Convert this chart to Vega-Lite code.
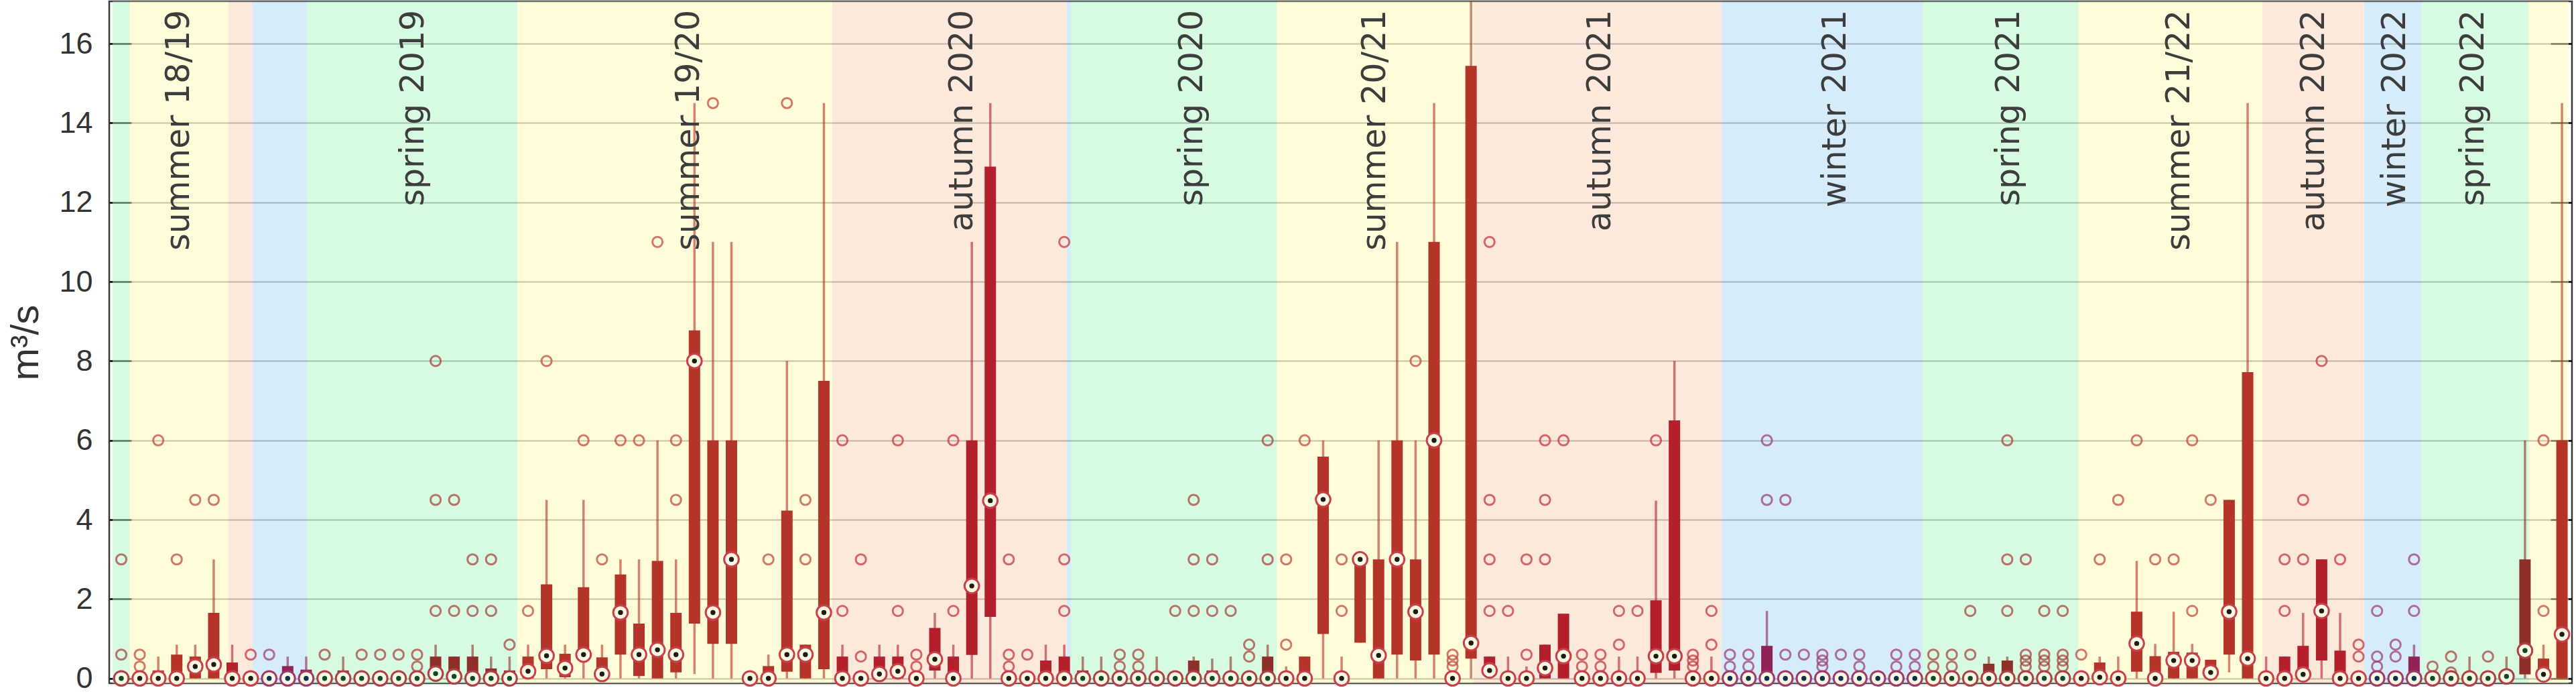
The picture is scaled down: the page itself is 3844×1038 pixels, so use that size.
{
"$schema": "https://vega.github.io/schema/vega-lite/v6.json",
"width": 3675, "height": 1017,
"autosize": {"type": "none"},
"padding": {"left": 163, "top": 2, "right": 6, "bottom": 19},
"background": "white",
"config": {"view": {"stroke": "#3a3a3a", "strokeWidth": 2.5}},
"datasets": {
"seasons": [{"a":-0.47,"b":0.46,"s":"sp"},{"a":0.46,"b":5.8,"s":"su"},{"a":5.8,"b":7.1,"s":"au"},{"a":7.1,"b":10.05,"s":"wi"},{"a":10.05,"b":21.42,"s":"sp"},{"a":21.42,"b":38.45,"s":"su"},{"a":38.45,"b":51.13,"s":"au"},{"a":51.13,"b":51.37,"s":"wi"},{"a":51.37,"b":62.5,"s":"sp"},{"a":62.5,"b":73.15,"s":"su"},{"a":73.15,"b":86.55,"s":"au"},{"a":86.55,"b":97.42,"s":"wi"},{"a":97.42,"b":105.85,"s":"sp"},{"a":105.85,"b":115.8,"s":"su"},{"a":115.8,"b":121.3,"s":"au"},{"a":121.3,"b":124.4,"s":"wi"},{"a":124.4,"b":130.2,"s":"sp"},{"a":130.2,"b":132.36,"s":"su"}],
"labels": [{"x":3.13,"t":"summer 18/19"},{"x":15.8,"t":"spring 2019"},{"x":30.7,"t":"summer 19/20"},{"x":45.5,"t":"autumn 2020"},{"x":57.9,"t":"spring 2020"},{"x":67.8,"t":"summer 20/21"},{"x":80.0,"t":"autumn 2021"},{"x":92.7,"t":"winter 2021"},{"x":102.1,"t":"spring 2021"},{"x":111.3,"t":"summer 21/22"},{"x":118.6,"t":"autumn 2022"},{"x":122.96,"t":"winter 2022"},{"x":127.2,"t":"spring 2022"}],
"boxes": [
{"i":0,"s":"sp","lo":0,"q1":0,"m":0,"q3":0,"hi":0.2},
{"i":1,"s":"su","lo":0,"q1":0,"m":0,"q3":0.15,"hi":0.2},
{"i":2,"s":"su","lo":0,"q1":0,"m":0,"q3":0.2,"hi":0.55},
{"i":3,"s":"su","lo":0,"q1":0,"m":0,"q3":0.6,"hi":0.85},
{"i":4,"s":"su","lo":0,"q1":0,"m":0.3,"q3":0.55,"hi":0.85},
{"i":5,"s":"su","lo":0,"q1":0,"m":0.35,"q3":1.65,"hi":3},
{"i":6,"s":"au","lo":0,"q1":0,"m":0,"q3":0.4,"hi":0.85},
{"i":7,"s":"au","lo":0,"q1":0,"m":0,"q3":0,"hi":0},
{"i":8,"s":"wi","lo":0,"q1":0,"m":0,"q3":0,"hi":0},
{"i":9,"s":"wi","lo":0,"q1":0,"m":0,"q3":0.31,"hi":0.55},
{"i":10,"s":"wi","lo":0,"q1":0,"m":0,"q3":0.22,"hi":0.55},
{"i":11,"s":"sp","lo":0,"q1":0,"m":0,"q3":0,"hi":0},
{"i":12,"s":"sp","lo":0,"q1":0,"m":0,"q3":0.2,"hi":0.55},
{"i":13,"s":"sp","lo":0,"q1":0,"m":0,"q3":0,"hi":0},
{"i":14,"s":"sp","lo":0,"q1":0,"m":0,"q3":0,"hi":0},
{"i":15,"s":"sp","lo":0,"q1":0,"m":0,"q3":0,"hi":0},
{"i":16,"s":"sp","lo":0,"q1":0,"m":0,"q3":0,"hi":0},
{"i":17,"s":"sp","lo":0,"q1":0,"m":0.12,"q3":0.55,"hi":0.85},
{"i":18,"s":"sp","lo":0,"q1":0,"m":0.05,"q3":0.55,"hi":0.55},
{"i":19,"s":"sp","lo":0,"q1":0,"m":0,"q3":0.55,"hi":0.85},
{"i":20,"s":"sp","lo":0,"q1":0,"m":0,"q3":0.25,"hi":0.55},
{"i":21,"s":"sp","lo":0,"q1":0,"m":0,"q3":0.2,"hi":0.55},
{"i":22,"s":"su","lo":0,"q1":0,"m":0.18,"q3":0.55,"hi":0.85},
{"i":23,"s":"su","lo":0,"q1":0.23,"m":0.57,"q3":2.37,"hi":4.5},
{"i":24,"s":"su","lo":0,"q1":0.03,"m":0.26,"q3":0.62,"hi":0.85},
{"i":25,"s":"su","lo":0,"q1":0.5,"m":0.6,"q3":2.3,"hi":4.5},
{"i":26,"s":"su","lo":0,"q1":0,"m":0.11,"q3":0.53,"hi":0.85},
{"i":27,"s":"su","lo":0,"q1":0.6,"m":1.66,"q3":2.62,"hi":3},
{"i":28,"s":"su","lo":0,"q1":0.06,"m":0.6,"q3":1.38,"hi":3},
{"i":29,"s":"su","lo":0,"q1":0,"m":0.72,"q3":2.96,"hi":6},
{"i":30,"s":"su","lo":0,"q1":0.15,"m":0.6,"q3":1.65,"hi":3},
{"i":31,"s":"su","lo":0.11,"q1":1.38,"m":8,"q3":8.77,"hi":14.5},
{"i":32,"s":"su","lo":0,"q1":0.87,"m":1.66,"q3":6,"hi":11},
{"i":33,"s":"su","lo":0,"q1":0.87,"m":3,"q3":6,"hi":11},
{"i":34,"s":"su","lo":0,"q1":0,"m":0,"q3":0,"hi":0},
{"i":35,"s":"su","lo":0,"q1":0,"m":0,"q3":0.31,"hi":0.6},
{"i":36,"s":"su","lo":0,"q1":0.17,"m":0.6,"q3":4.23,"hi":8},
{"i":37,"s":"su","lo":0,"q1":0,"m":0.6,"q3":0.85,"hi":0.85},
{"i":38,"s":"su","lo":0,"q1":0.23,"m":1.66,"q3":7.5,"hi":14.5},
{"i":39,"s":"au","lo":0,"q1":0,"m":0,"q3":0.55,"hi":0.85},
{"i":40,"s":"au","lo":0,"q1":0,"m":0,"q3":0,"hi":0},
{"i":41,"s":"au","lo":0,"q1":0,"m":0.11,"q3":0.55,"hi":0.85},
{"i":42,"s":"au","lo":0,"q1":0,"m":0.18,"q3":0.55,"hi":0.85},
{"i":43,"s":"au","lo":0,"q1":0,"m":0,"q3":0,"hi":0},
{"i":44,"s":"au","lo":0,"q1":0.2,"m":0.48,"q3":1.27,"hi":1.65},
{"i":45,"s":"au","lo":0,"q1":0,"m":0,"q3":0.55,"hi":0.85},
{"i":46,"s":"au","lo":0,"q1":0.59,"m":2.33,"q3":6,"hi":11},
{"i":47,"s":"au","lo":0,"q1":1.55,"m":4.48,"q3":12.9,"hi":14.5},
{"i":48,"s":"au","lo":0,"q1":0,"m":0,"q3":0,"hi":0},
{"i":49,"s":"au","lo":0,"q1":0,"m":0,"q3":0,"hi":0},
{"i":50,"s":"au","lo":0,"q1":0,"m":0,"q3":0.45,"hi":0.85},
{"i":51,"s":"au","lo":0,"q1":0,"m":0,"q3":0.55,"hi":0.85},
{"i":52,"s":"sp","lo":0,"q1":0,"m":0,"q3":0.2,"hi":0.55},
{"i":53,"s":"sp","lo":0,"q1":0,"m":0,"q3":0.1,"hi":0.55},
{"i":54,"s":"sp","lo":0,"q1":0,"m":0,"q3":0,"hi":0},
{"i":55,"s":"sp","lo":0,"q1":0,"m":0,"q3":0,"hi":0},
{"i":56,"s":"sp","lo":0,"q1":0,"m":0,"q3":0.15,"hi":0.55},
{"i":57,"s":"sp","lo":0,"q1":0,"m":0,"q3":0,"hi":0},
{"i":58,"s":"sp","lo":0,"q1":0,"m":0,"q3":0.45,"hi":0.55},
{"i":59,"s":"sp","lo":0,"q1":0,"m":0,"q3":0.2,"hi":0.5},
{"i":60,"s":"sp","lo":0,"q1":0,"m":0,"q3":0.1,"hi":0.55},
{"i":61,"s":"sp","lo":0,"q1":0,"m":0,"q3":0,"hi":0},
{"i":62,"s":"sp","lo":0,"q1":0,"m":0,"q3":0.55,"hi":0.85},
{"i":63,"s":"su","lo":0,"q1":0,"m":0,"q3":0.05,"hi":0.3},
{"i":64,"s":"su","lo":0,"q1":0,"m":0,"q3":0.55,"hi":0.55},
{"i":65,"s":"su","lo":0,"q1":1.12,"m":4.51,"q3":5.59,"hi":6},
{"i":66,"s":"su","lo":0,"q1":0,"m":0,"q3":0,"hi":0.55},
{"i":67,"s":"su","lo":0.9,"q1":0.9,"m":3,"q3":3,"hi":3},
{"i":68,"s":"su","lo":0,"q1":0,"m":0.58,"q3":3,"hi":6},
{"i":69,"s":"su","lo":0,"q1":0.6,"m":3,"q3":6,"hi":11},
{"i":70,"s":"su","lo":0,"q1":0.45,"m":1.68,"q3":3,"hi":6},
{"i":71,"s":"su","lo":0,"q1":0.6,"m":6,"q3":11,"hi":14.5},
{"i":72,"s":"su","lo":0,"q1":0,"m":0,"q3":0,"hi":0},
{"i":73,"s":"su","lo":0,"q1":0.5,"m":0.89,"q3":15.44,"hi":17.5},
{"i":74,"s":"au","lo":0,"q1":0.1,"m":0.2,"q3":0.55,"hi":0.55},
{"i":75,"s":"au","lo":0,"q1":0,"m":0,"q3":0,"hi":0.55},
{"i":76,"s":"au","lo":0,"q1":0,"m":0,"q3":0.1,"hi":0.3},
{"i":77,"s":"au","lo":0,"q1":0,"m":0.26,"q3":0.85,"hi":0.85},
{"i":78,"s":"au","lo":0,"q1":0,"m":0.56,"q3":1.63,"hi":1.63},
{"i":79,"s":"au","lo":0,"q1":0,"m":0,"q3":0,"hi":0},
{"i":80,"s":"au","lo":0,"q1":0,"m":0,"q3":0,"hi":0},
{"i":81,"s":"au","lo":0,"q1":0,"m":0,"q3":0.1,"hi":0.55},
{"i":82,"s":"au","lo":0,"q1":0,"m":0,"q3":0,"hi":0.55},
{"i":83,"s":"au","lo":0,"q1":0.14,"m":0.56,"q3":1.97,"hi":4.48},
{"i":84,"s":"au","lo":0,"q1":0.2,"m":0.56,"q3":6.5,"hi":8},
{"i":85,"s":"au","lo":0,"q1":0,"m":0,"q3":0,"hi":0},
{"i":86,"s":"au","lo":0,"q1":0,"m":0,"q3":0,"hi":0.55},
{"i":87,"s":"wi","lo":0,"q1":0,"m":0,"q3":0,"hi":0},
{"i":88,"s":"wi","lo":0,"q1":0,"m":0,"q3":0,"hi":0},
{"i":89,"s":"wi","lo":0,"q1":0,"m":0,"q3":0.82,"hi":1.7},
{"i":90,"s":"wi","lo":0,"q1":0,"m":0,"q3":0,"hi":0},
{"i":91,"s":"wi","lo":0,"q1":0,"m":0,"q3":0,"hi":0},
{"i":92,"s":"wi","lo":0,"q1":0,"m":0,"q3":0,"hi":0},
{"i":93,"s":"wi","lo":0,"q1":0,"m":0,"q3":0,"hi":0},
{"i":94,"s":"wi","lo":0,"q1":0,"m":0,"q3":0,"hi":0},
{"i":95,"s":"wi","lo":0,"q1":0,"m":0,"q3":0,"hi":0},
{"i":96,"s":"wi","lo":0,"q1":0,"m":0,"q3":0,"hi":0},
{"i":97,"s":"wi","lo":0,"q1":0,"m":0,"q3":0,"hi":0},
{"i":98,"s":"sp","lo":0,"q1":0,"m":0,"q3":0,"hi":0},
{"i":99,"s":"sp","lo":0,"q1":0,"m":0,"q3":0.1,"hi":0.1},
{"i":100,"s":"sp","lo":0,"q1":0,"m":0,"q3":0,"hi":0},
{"i":101,"s":"sp","lo":0,"q1":0,"m":0,"q3":0.37,"hi":0.55},
{"i":102,"s":"sp","lo":0,"q1":0,"m":0,"q3":0.45,"hi":0.55},
{"i":103,"s":"sp","lo":0,"q1":0,"m":0,"q3":0,"hi":0},
{"i":104,"s":"sp","lo":0,"q1":0,"m":0,"q3":0,"hi":0},
{"i":105,"s":"sp","lo":0,"q1":0,"m":0,"q3":0,"hi":0},
{"i":106,"s":"su","lo":0,"q1":0,"m":0,"q3":0,"hi":0},
{"i":107,"s":"su","lo":0,"q1":0,"m":0.03,"q3":0.4,"hi":0.55},
{"i":108,"s":"su","lo":0,"q1":0,"m":0,"q3":0,"hi":0.55},
{"i":109,"s":"su","lo":0,"q1":0.17,"m":0.88,"q3":1.68,"hi":2.96},
{"i":110,"s":"su","lo":0,"q1":0,"m":0,"q3":0.56,"hi":0.87},
{"i":111,"s":"su","lo":0,"q1":0,"m":0.45,"q3":0.67,"hi":1.68},
{"i":112,"s":"su","lo":0,"q1":0,"m":0.45,"q3":0.65,"hi":0.87},
{"i":113,"s":"su","lo":0,"q1":0,"m":0.15,"q3":0.47,"hi":0.47},
{"i":114,"s":"su","lo":0.15,"q1":0.6,"m":1.68,"q3":4.5,"hi":4.5},
{"i":115,"s":"su","lo":0,"q1":0,"m":0.5,"q3":7.72,"hi":14.5},
{"i":116,"s":"au","lo":0,"q1":0,"m":0,"q3":0,"hi":0.55},
{"i":117,"s":"au","lo":0,"q1":0,"m":0,"q3":0.55,"hi":0.55},
{"i":118,"s":"au","lo":0,"q1":0,"m":0.1,"q3":0.82,"hi":1.65},
{"i":119,"s":"au","lo":0,"q1":0.45,"m":1.7,"q3":3,"hi":3},
{"i":120,"s":"au","lo":0,"q1":0,"m":0,"q3":0.7,"hi":1.65},
{"i":121,"s":"au","lo":0,"q1":0,"m":0,"q3":0,"hi":0},
{"i":122,"s":"wi","lo":0,"q1":0,"m":0,"q3":0,"hi":0},
{"i":123,"s":"wi","lo":0,"q1":0,"m":0,"q3":0,"hi":0},
{"i":124,"s":"wi","lo":0,"q1":0,"m":0,"q3":0.55,"hi":0.85},
{"i":125,"s":"sp","lo":0,"q1":0,"m":0,"q3":0,"hi":0},
{"i":126,"s":"sp","lo":0,"q1":0,"m":0,"q3":0,"hi":0},
{"i":127,"s":"sp","lo":0,"q1":0,"m":0,"q3":0.1,"hi":0.55},
{"i":128,"s":"sp","lo":0,"q1":0,"m":0,"q3":0,"hi":0},
{"i":129,"s":"sp","lo":0,"q1":0,"m":0.05,"q3":0.05,"hi":0.55},
{"i":130,"s":"sp","lo":0,"q1":0.1,"m":0.7,"q3":3,"hi":6},
{"i":131,"s":"su","lo":0,"q1":0,"m":0.1,"q3":0.5,"hi":0.85},
{"i":132,"s":"su","lo":0,"q1":0,"m":1.11,"q3":6,"hi":14.5}
],
"outliers": [
{"i":0,"s":"sp","v":0.6},{"i":0,"s":"sp","v":3},
{"i":1,"s":"su","v":0.3},{"i":1,"s":"su","v":0.6},
{"i":2,"s":"su","v":6},{"i":3,"s":"su","v":3},{"i":4,"s":"su","v":4.5},{"i":5,"s":"su","v":4.5},
{"i":7,"s":"au","v":0.6},{"i":8,"s":"wi","v":0.6},
{"i":11,"s":"sp","v":0.6},{"i":13,"s":"sp","v":0.6},{"i":14,"s":"sp","v":0.6},{"i":15,"s":"sp","v":0.6},
{"i":16,"s":"sp","v":0.3},{"i":16,"s":"sp","v":0.6},
{"i":17,"s":"sp","v":1.7},{"i":17,"s":"sp","v":4.5},{"i":17,"s":"sp","v":8},
{"i":18,"s":"sp","v":1.7},{"i":18,"s":"sp","v":4.5},
{"i":19,"s":"sp","v":1.7},{"i":19,"s":"sp","v":3},
{"i":20,"s":"sp","v":1.7},{"i":20,"s":"sp","v":3},
{"i":21,"s":"sp","v":0.85},
{"i":22,"s":"su","v":1.7},{"i":23,"s":"su","v":8},{"i":25,"s":"su","v":6},{"i":26,"s":"su","v":3},
{"i":27,"s":"su","v":6},{"i":28,"s":"su","v":6},{"i":29,"s":"su","v":11},
{"i":30,"s":"su","v":4.5},{"i":30,"s":"su","v":6},
{"i":32,"s":"su","v":14.5},{"i":35,"s":"su","v":3},{"i":36,"s":"su","v":14.5},
{"i":37,"s":"su","v":3},{"i":37,"s":"su","v":4.5},
{"i":39,"s":"au","v":1.7},{"i":39,"s":"au","v":6},
{"i":40,"s":"au","v":0.55},{"i":40,"s":"au","v":3},
{"i":42,"s":"au","v":1.7},{"i":42,"s":"au","v":6},
{"i":43,"s":"au","v":0.3},{"i":43,"s":"au","v":0.6},
{"i":45,"s":"au","v":1.7},{"i":45,"s":"au","v":6},
{"i":48,"s":"au","v":0.3},{"i":48,"s":"au","v":0.6},{"i":48,"s":"au","v":3},
{"i":49,"s":"au","v":0.6},
{"i":51,"s":"au","v":1.7},{"i":51,"s":"au","v":3},{"i":51,"s":"au","v":11},
{"i":54,"s":"sp","v":0.3},{"i":54,"s":"sp","v":0.6},
{"i":55,"s":"sp","v":0.3},{"i":55,"s":"sp","v":0.6},
{"i":57,"s":"sp","v":1.7},
{"i":58,"s":"sp","v":1.7},{"i":58,"s":"sp","v":3},{"i":58,"s":"sp","v":4.5},
{"i":59,"s":"sp","v":1.7},{"i":59,"s":"sp","v":3},
{"i":60,"s":"sp","v":1.7},
{"i":61,"s":"sp","v":0.55},{"i":61,"s":"sp","v":0.85},
{"i":62,"s":"sp","v":3},{"i":62,"s":"sp","v":6},
{"i":63,"s":"su","v":0.85},{"i":63,"s":"su","v":3},
{"i":64,"s":"su","v":6},
{"i":66,"s":"su","v":1.7},{"i":66,"s":"su","v":3},
{"i":70,"s":"su","v":8},
{"i":72,"s":"su","v":0.3},{"i":72,"s":"su","v":0.45},{"i":72,"s":"su","v":0.6},
{"i":74,"s":"au","v":1.7},{"i":74,"s":"au","v":3},{"i":74,"s":"au","v":4.5},{"i":74,"s":"au","v":11},
{"i":75,"s":"au","v":1.7},
{"i":76,"s":"au","v":0.6},{"i":76,"s":"au","v":3},
{"i":77,"s":"au","v":3},{"i":77,"s":"au","v":4.5},{"i":77,"s":"au","v":6},
{"i":78,"s":"au","v":6},
{"i":79,"s":"au","v":0.3},{"i":79,"s":"au","v":0.6},
{"i":80,"s":"au","v":0.3},{"i":80,"s":"au","v":0.6},
{"i":81,"s":"au","v":0.85},{"i":81,"s":"au","v":1.7},
{"i":82,"s":"au","v":1.7},{"i":83,"s":"au","v":6},
{"i":85,"s":"au","v":0.3},{"i":85,"s":"au","v":0.45},{"i":85,"s":"au","v":0.6},
{"i":86,"s":"au","v":0.85},{"i":86,"s":"au","v":1.7},
{"i":87,"s":"wi","v":0.3},{"i":87,"s":"wi","v":0.6},
{"i":88,"s":"wi","v":0.3},{"i":88,"s":"wi","v":0.6},
{"i":89,"s":"wi","v":4.5},{"i":89,"s":"wi","v":6},
{"i":90,"s":"wi","v":0.6},{"i":90,"s":"wi","v":4.5},
{"i":91,"s":"wi","v":0.6},
{"i":92,"s":"wi","v":0.3},{"i":92,"s":"wi","v":0.45},{"i":92,"s":"wi","v":0.6},
{"i":93,"s":"wi","v":0.6},
{"i":94,"s":"wi","v":0.3},{"i":94,"s":"wi","v":0.6},
{"i":96,"s":"wi","v":0.3},{"i":96,"s":"wi","v":0.6},
{"i":97,"s":"wi","v":0.3},{"i":97,"s":"wi","v":0.6},
{"i":98,"s":"sp","v":0.3},{"i":98,"s":"sp","v":0.6},
{"i":99,"s":"sp","v":0.3},{"i":99,"s":"sp","v":0.6},
{"i":100,"s":"sp","v":0.6},{"i":100,"s":"sp","v":1.7},
{"i":102,"s":"sp","v":1.7},{"i":102,"s":"sp","v":3},{"i":102,"s":"sp","v":6},
{"i":103,"s":"sp","v":0.3},{"i":103,"s":"sp","v":0.45},{"i":103,"s":"sp","v":0.6},{"i":103,"s":"sp","v":3},
{"i":104,"s":"sp","v":0.3},{"i":104,"s":"sp","v":0.45},{"i":104,"s":"sp","v":0.6},{"i":104,"s":"sp","v":1.7},
{"i":105,"s":"sp","v":0.3},{"i":105,"s":"sp","v":0.45},{"i":105,"s":"sp","v":0.6},{"i":105,"s":"sp","v":1.7},
{"i":106,"s":"su","v":0.6},{"i":107,"s":"su","v":3},{"i":108,"s":"su","v":4.5},{"i":109,"s":"su","v":6},
{"i":110,"s":"su","v":3},{"i":111,"s":"su","v":3},
{"i":112,"s":"su","v":1.7},{"i":112,"s":"su","v":6},
{"i":113,"s":"su","v":4.5},
{"i":117,"s":"au","v":1.7},{"i":117,"s":"au","v":3},
{"i":118,"s":"au","v":3},{"i":118,"s":"au","v":4.5},
{"i":119,"s":"au","v":8},{"i":120,"s":"au","v":3},
{"i":121,"s":"au","v":0.55},{"i":121,"s":"au","v":0.85},
{"i":122,"s":"wi","v":0.3},{"i":122,"s":"wi","v":0.55},{"i":122,"s":"wi","v":1.7},
{"i":123,"s":"wi","v":0.55},{"i":123,"s":"wi","v":0.85},
{"i":124,"s":"wi","v":1.7},{"i":124,"s":"wi","v":3},
{"i":125,"s":"sp","v":0.3},
{"i":126,"s":"sp","v":0.15},{"i":126,"s":"sp","v":0.55},
{"i":128,"s":"sp","v":0.55},
{"i":131,"s":"su","v":1.7},{"i":131,"s":"su","v":6}
]
},
"layer": [
{"data": {"name": "seasons"},
 "mark": {"type": "rect", "opacity": 0.5},
 "encoding": {
  "x": {"field": "a", "type": "quantitative", "scale": {"domain": [-0.47, 132.36], "nice": false, "zero": false}, "axis": null},
  "x2": {"field": "b"},
  "fill": {"field": "s", "type": "nominal", "scale": {"domain": ["sp","su","au","wi"], "range": ["#adf7c1","#fff9b3","#fbd3b7","#afd9f5"]}, "legend": null}
 }},
{"data": {"name": "boxes"},
 "mark": {"type": "rule", "strokeWidth": 3.5, "opacity": 0.6, "clip": true},
 "encoding": {
  "x": {"field": "i", "type": "quantitative", "scale": {"domain": [-0.47, 132.36], "nice": false, "zero": false}, "axis": null},
  "y": {"field": "lo", "type": "quantitative", "scale": {"domain": [-0.123, 17.065], "nice": false, "zero": false},
   "axis": {"orient": "left", "values": [0,2,4,6,8,10,12,14,16], "grid": true, "gridColor": "#8f8f8f", "gridWidth": 2, "domain": false,
    "ticks": true, "tickSize": -33, "tickColor": "#000000", "tickWidth": 2.5, "labelPadding": 58,
    "labelFont": "Liberation Sans", "labelFontSize": 45, "labelColor": "#333333",
    "title": "m³/s", "titleFont": "Liberation Sans", "titleFontSize": 58, "titleFontWeight": "normal", "titleColor": "#333333", "titleX": -124, "titleBaseline": "middle"}},
  "y2": {"field": "hi"},
  "stroke": {"field": "s", "type": "nominal", "scale": {"domain": ["sp","su","au","wi"], "range": ["#8e2f2a","#b5342a","#b3202c","#8f2356"]}, "legend": null}
 }},
{"data": {"name": "boxes"},
 "mark": {"type": "bar", "orient": "vertical", "size": 17},
 "encoding": {
  "x": {"field": "i", "type": "quantitative", "scale": {"domain": [-0.47, 132.36], "nice": false, "zero": false}, "axis": null},
  "y": {"field": "q1", "type": "quantitative", "scale": {"domain": [-0.123, 17.065], "nice": false, "zero": false},
   "axis": {"orient": "right", "values": [0,2,4,6,8,10,12,14,16], "grid": false, "domain": false, "labels": false, "ticks": true, "tickSize": -32, "tickColor": "#000000", "tickWidth": 2.5, "title": null}},
  "y2": {"field": "q3"},
  "fill": {"field": "s", "type": "nominal", "scale": {"domain": ["sp","su","au","wi"], "range": ["#8e2f2a","#b5342a","#b3202c","#8f2356"]}, "legend": null}
 }},
{"data": {"name": "outliers"},
 "mark": {"type": "point", "shape": "circle", "filled": false, "size": 230, "strokeWidth": 3},
 "encoding": {
  "x": {"field": "i", "type": "quantitative", "scale": {"domain": [-0.47, 132.36], "nice": false, "zero": false}, "axis": null},
  "y": {"field": "v", "type": "quantitative", "scale": {"domain": [-0.123, 17.065], "nice": false, "zero": false}, "axis": null},
  "stroke": {"field": "s", "type": "nominal", "scale": {"domain": ["sp","su","au","wi"], "range": ["#a83a38","#c0443c","#c2303c","#9a3a70"]}, "legend": null}
 }},
{"data": {"name": "boxes"},
 "mark": {"type": "point", "shape": "circle", "filled": true, "size": 470, "strokeWidth": 3, "fill": "#fbf8e4", "fillOpacity": 1},
 "encoding": {
  "x": {"field": "i", "type": "quantitative", "scale": {"domain": [-0.47, 132.36], "nice": false, "zero": false}, "axis": null},
  "y": {"field": "m", "type": "quantitative", "scale": {"domain": [-0.123, 17.065], "nice": false, "zero": false}, "axis": null},
  "stroke": {"field": "s", "type": "nominal", "scale": {"domain": ["sp","su","au","wi"], "range": ["#b04048","#c8404a","#c8404a","#a03a6a"]}, "legend": null}
 }},
{"data": {"name": "boxes"},
 "mark": {"type": "point", "shape": "circle", "filled": true, "size": 55, "opacity": 1},
 "encoding": {
  "x": {"field": "i", "type": "quantitative", "scale": {"domain": [-0.47, 132.36], "nice": false, "zero": false}, "axis": null},
  "y": {"field": "m", "type": "quantitative", "scale": {"domain": [-0.123, 17.065], "nice": false, "zero": false}, "axis": null},
  "fill": {"field": "s", "type": "nominal", "scale": {"domain": ["sp","su","au","wi"], "range": ["#0d4a2a","#1c1c10","#1c1c10","#0d304a"]}, "legend": null}
 }},
{"data": {"name": "labels"},
 "mark": {"type": "text", "angle": 270, "align": "right", "baseline": "middle", "font": "DejaVu Sans", "fontSize": 49, "color": "#3d3d3d"},
 "encoding": {
  "x": {"field": "x", "type": "quantitative", "scale": {"domain": [-0.47, 132.36], "nice": false, "zero": false}, "axis": null},
  "y": {"datum": 16.85, "type": "quantitative", "scale": {"domain": [-0.123, 17.065], "nice": false, "zero": false}, "axis": null},
  "text": {"field": "t"}
 }}
],
"resolve": {"scale": {"fill": "independent", "stroke": "independent"}, "axis": {"y": "independent"}}
}
